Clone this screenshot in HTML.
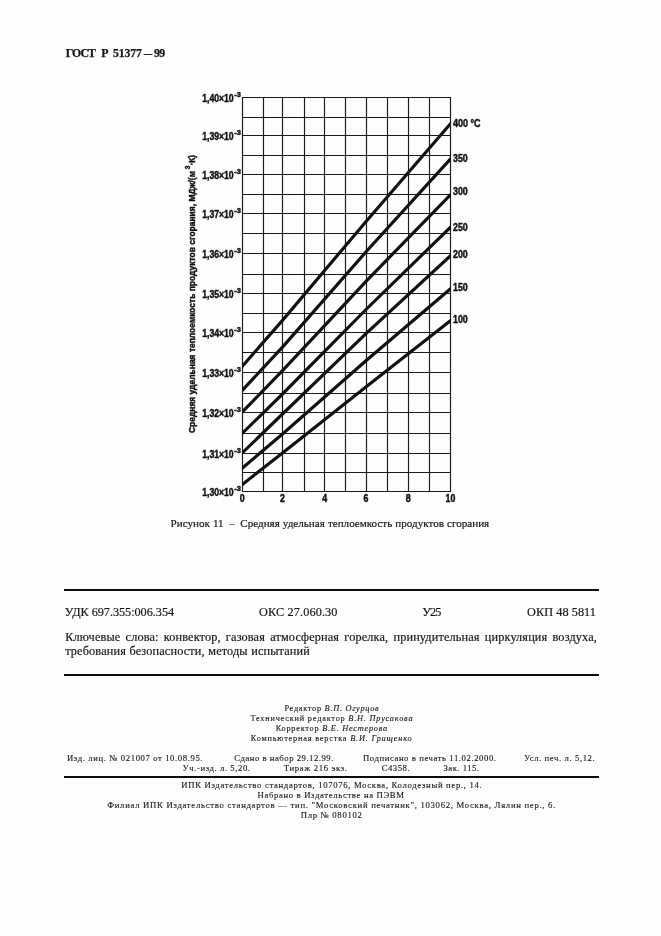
<!DOCTYPE html>
<html lang="ru"><head><meta charset="utf-8"><title>ГОСТ Р 51377—99</title>
<style>
html,body{margin:0;padding:0;background:#fdfdfd;}
body{width:661px;height:936px;position:relative;overflow:hidden;font-family:"Liberation Serif", serif;color:#161616;will-change:transform;}
.t{position:absolute;white-space:nowrap;line-height:1;margin:0;}
.chart{position:absolute;left:0;top:0;}
.r{position:absolute;background:#0c0c0c;}

</style></head><body>
<svg class="chart" width="661" height="560" viewBox="0 0 661 560">
<defs><clipPath id="cp"><rect x="241.9" y="96.9" width="209.2" height="395.2"/></clipPath></defs>
<g stroke="#1a1a1a" stroke-width="1.15" fill="none">
<line x1="242.5" y1="97.0" x2="242.5" y2="492.0"/>
<line x1="263.5" y1="97.0" x2="263.5" y2="492.0"/>
<line x1="282.5" y1="97.0" x2="282.5" y2="492.0"/>
<line x1="304.5" y1="97.0" x2="304.5" y2="492.0"/>
<line x1="324.5" y1="97.0" x2="324.5" y2="492.0"/>
<line x1="345.5" y1="97.0" x2="345.5" y2="492.0"/>
<line x1="366.5" y1="97.0" x2="366.5" y2="492.0"/>
<line x1="387.5" y1="97.0" x2="387.5" y2="492.0"/>
<line x1="408.5" y1="97.0" x2="408.5" y2="492.0"/>
<line x1="429.5" y1="97.0" x2="429.5" y2="492.0"/>
<line x1="450.5" y1="97.0" x2="450.5" y2="492.0"/>
<line x1="242.0" y1="97.5" x2="451.0" y2="97.5"/>
<line x1="242.0" y1="117.5" x2="451.0" y2="117.5"/>
<line x1="242.0" y1="135.5" x2="451.0" y2="135.5"/>
<line x1="242.0" y1="155.5" x2="451.0" y2="155.5"/>
<line x1="242.0" y1="174.5" x2="451.0" y2="174.5"/>
<line x1="242.0" y1="194.5" x2="451.0" y2="194.5"/>
<line x1="242.0" y1="213.5" x2="451.0" y2="213.5"/>
<line x1="242.0" y1="233.5" x2="451.0" y2="233.5"/>
<line x1="242.0" y1="253.5" x2="451.0" y2="253.5"/>
<line x1="242.0" y1="274.5" x2="451.0" y2="274.5"/>
<line x1="242.0" y1="293.5" x2="451.0" y2="293.5"/>
<line x1="242.0" y1="313.5" x2="451.0" y2="313.5"/>
<line x1="242.0" y1="332.5" x2="451.0" y2="332.5"/>
<line x1="242.0" y1="352.5" x2="451.0" y2="352.5"/>
<line x1="242.0" y1="372.5" x2="451.0" y2="372.5"/>
<line x1="242.0" y1="393.5" x2="451.0" y2="393.5"/>
<line x1="242.0" y1="412.5" x2="451.0" y2="412.5"/>
<line x1="242.0" y1="433.5" x2="451.0" y2="433.5"/>
<line x1="242.0" y1="453.5" x2="451.0" y2="453.5"/>
<line x1="242.0" y1="472.5" x2="451.0" y2="472.5"/>
<line x1="242.0" y1="491.5" x2="451.0" y2="491.5"/>
</g>
<g stroke="#111" stroke-width="3.15" fill="none" stroke-linecap="square" stroke-linejoin="round" clip-path="url(#cp)">
<path d="M239.5 369.53 L282.5 320.4 L366.5 220.9 L453.5 120.23"/>
<path d="M239.5 393.33 L282.5 347.1 L366.5 251.3 L453.5 155.70"/>
<path d="M239.5 414.88 L282.5 370.7 L366.5 280.8 L453.5 191.62"/>
<path d="M239.5 436.03 L282.5 394.0 L366.5 309.0 L453.5 224.28"/>
<path d="M239.5 455.50 L282.5 414.0 L366.5 333.1 L453.5 252.94"/>
<path d="M239.5 470.44 L282.5 434.0 L366.5 360.3 L453.5 286.25"/>
<path d="M239.5 486.65 L282.5 453.0 L366.5 386.5 L453.5 318.25"/>
</g>
<g font-family='"Liberation Sans", sans-serif' font-weight="bold" font-size="10.0" fill="#111" stroke="#111" stroke-width="0.45">
<text x="453.0" y="126.9" textLength="27.6" lengthAdjust="spacingAndGlyphs">400 °C</text>
<text x="453.0" y="162.2" textLength="14.7" lengthAdjust="spacingAndGlyphs">350</text>
<text x="453.0" y="195.3" textLength="14.7" lengthAdjust="spacingAndGlyphs">300</text>
<text x="453.0" y="231.1" textLength="14.7" lengthAdjust="spacingAndGlyphs">250</text>
<text x="453.0" y="258.2" textLength="14.7" lengthAdjust="spacingAndGlyphs">200</text>
<text x="453.0" y="291.1" textLength="14.7" lengthAdjust="spacingAndGlyphs">150</text>
<text x="453.0" y="323.1" textLength="14.7" lengthAdjust="spacingAndGlyphs">100</text>
<text x="202.2" y="102.3" textLength="31.5" lengthAdjust="spacingAndGlyphs">1,40×10</text>
<text x="234.2" y="97.1" font-size="7.6" textLength="6.7" lengthAdjust="spacingAndGlyphs">-3</text>
<text x="202.2" y="140.3" textLength="31.5" lengthAdjust="spacingAndGlyphs">1,39×10</text>
<text x="234.2" y="135.1" font-size="7.6" textLength="6.7" lengthAdjust="spacingAndGlyphs">-3</text>
<text x="202.2" y="179.3" textLength="31.5" lengthAdjust="spacingAndGlyphs">1,38×10</text>
<text x="234.2" y="174.1" font-size="7.6" textLength="6.7" lengthAdjust="spacingAndGlyphs">-3</text>
<text x="202.2" y="218.3" textLength="31.5" lengthAdjust="spacingAndGlyphs">1,37×10</text>
<text x="234.2" y="213.1" font-size="7.6" textLength="6.7" lengthAdjust="spacingAndGlyphs">-3</text>
<text x="202.2" y="258.3" textLength="31.5" lengthAdjust="spacingAndGlyphs">1,36×10</text>
<text x="234.2" y="253.1" font-size="7.6" textLength="6.7" lengthAdjust="spacingAndGlyphs">-3</text>
<text x="202.2" y="298.3" textLength="31.5" lengthAdjust="spacingAndGlyphs">1,35×10</text>
<text x="234.2" y="293.1" font-size="7.6" textLength="6.7" lengthAdjust="spacingAndGlyphs">-3</text>
<text x="202.2" y="337.3" textLength="31.5" lengthAdjust="spacingAndGlyphs">1,34×10</text>
<text x="234.2" y="332.1" font-size="7.6" textLength="6.7" lengthAdjust="spacingAndGlyphs">-3</text>
<text x="202.2" y="377.3" textLength="31.5" lengthAdjust="spacingAndGlyphs">1,33×10</text>
<text x="234.2" y="372.1" font-size="7.6" textLength="6.7" lengthAdjust="spacingAndGlyphs">-3</text>
<text x="202.2" y="417.3" textLength="31.5" lengthAdjust="spacingAndGlyphs">1,32×10</text>
<text x="234.2" y="412.1" font-size="7.6" textLength="6.7" lengthAdjust="spacingAndGlyphs">-3</text>
<text x="202.2" y="458.3" textLength="31.5" lengthAdjust="spacingAndGlyphs">1,31×10</text>
<text x="234.2" y="453.1" font-size="7.6" textLength="6.7" lengthAdjust="spacingAndGlyphs">-3</text>
<text x="202.2" y="496.3" textLength="31.5" lengthAdjust="spacingAndGlyphs">1,30×10</text>
<text x="234.2" y="491.1" font-size="7.6" textLength="6.7" lengthAdjust="spacingAndGlyphs">-3</text>
<text x="239.7" y="502.3" textLength="4.9" lengthAdjust="spacingAndGlyphs">0</text>
<text x="279.9" y="502.3" textLength="4.9" lengthAdjust="spacingAndGlyphs">2</text>
<text x="322.2" y="502.3" textLength="4.9" lengthAdjust="spacingAndGlyphs">4</text>
<text x="363.4" y="502.3" textLength="4.9" lengthAdjust="spacingAndGlyphs">6</text>
<text x="405.7" y="502.3" textLength="4.9" lengthAdjust="spacingAndGlyphs">8</text>
<text x="445.6" y="502.3" textLength="9.8" lengthAdjust="spacingAndGlyphs">10</text>
<text transform="translate(195.3 433.1) rotate(-90)" font-size="9.8" textLength="278.3" lengthAdjust="spacingAndGlyphs">Средняя удельная теплоемкость продуктов сгорания, МДж/(м<tspan dy="-5" font-size="7.6"> 3</tspan><tspan dy="5">·К)</tspan></text>
</g></svg>
<div class="t" id="t0" style="left:65.8px;top:48px;font-size:11.8px;font-weight:bold;-webkit-text-stroke:0.25px #161616;letter-spacing:-0.974px;">ГОСТ</div>
<div class="t" id="t1" style="left:101.3px;top:48px;font-size:11.8px;font-weight:bold;-webkit-text-stroke:0.25px #161616;letter-spacing:0.000px;">Р</div>
<div class="t" id="t2" style="left:112.9px;top:48px;font-size:11.8px;font-weight:bold;-webkit-text-stroke:0.25px #161616;letter-spacing:-0.100px;">51377</div>
<div class="t" id="t3" style="left:144.0px;top:48px;font-size:11.8px;font-weight:bold;-webkit-text-stroke:0.25px #161616;letter-spacing:0.000px;"><span style="display:inline-block;transform:scaleX(1.36);transform-origin:0 50%">–</span></div>
<div class="t" id="t4" style="left:154.0px;top:48px;font-size:11.8px;font-weight:bold;-webkit-text-stroke:0.25px #161616;letter-spacing:-0.597px;">99</div>
<div class="t" id="t5" style="left:170.6px;top:518px;font-size:11.1px;-webkit-text-stroke:0.18px #161616;word-spacing:0.286px;letter-spacing:0px;">Рисунок 11&ensp;–&ensp;Средняя удельная теплоемкость продуктов сгорания</div>
<div class="t" id="t6" style="left:64.8px;top:606px;font-size:12.25px;-webkit-text-stroke:0.18px #161616;letter-spacing:-0.042px;">УДК 697.355:006.354</div>
<div class="t" id="t7" style="left:259.0px;top:606px;font-size:12.25px;-webkit-text-stroke:0.18px #161616;letter-spacing:0.129px;">ОКС 27.060.30</div>
<div class="t" id="t8" style="left:422.3px;top:606px;font-size:12.25px;-webkit-text-stroke:0.18px #161616;letter-spacing:-0.919px;">У25</div>
<div class="t" id="t9" style="left:527.0px;top:606px;font-size:12.25px;-webkit-text-stroke:0.18px #161616;letter-spacing:0.070px;">ОКП 48 5811</div>
<div class="t" id="t10" style="left:65.2px;top:631px;font-size:12.25px;-webkit-text-stroke:0.18px #161616;word-spacing:1.946px;letter-spacing:0.15px;">Ключевые слова: конвектор, газовая атмосферная горелка, принудительная циркуляция воздуха,</div>
<div class="t" id="t11" style="left:65.2px;top:645px;font-size:12.25px;-webkit-text-stroke:0.18px #161616;word-spacing:0.282px;letter-spacing:0.15px;">требования безопасности, методы испытаний</div>
<div class="t" id="t12" style="left:284.4px;top:705px;font-size:8.3px;-webkit-text-stroke:0.12px #161616;letter-spacing:0.713px;">Редактор <i>В.П. Огурцов</i></div>
<div class="t" id="t13" style="left:250.4px;top:715px;font-size:8.3px;-webkit-text-stroke:0.12px #161616;letter-spacing:0.783px;">Технический редактор <i>В.Н. Прусакова</i></div>
<div class="t" id="t14" style="left:275.7px;top:725px;font-size:8.3px;-webkit-text-stroke:0.12px #161616;letter-spacing:0.746px;">Корректор <i>В.Е. Нестерова</i></div>
<div class="t" id="t15" style="left:250.8px;top:735px;font-size:8.3px;-webkit-text-stroke:0.12px #161616;letter-spacing:0.788px;">Компьютерная верстка <i>В.И. Грищенко</i></div>
<div class="t" id="t16" style="left:67.0px;top:754px;font-size:8.7px;-webkit-text-stroke:0.12px #161616;letter-spacing:0.591px;">Изд. лиц. № 021007 от 10.08.95.</div>
<div class="t" id="t17" style="left:234.2px;top:754px;font-size:8.7px;-webkit-text-stroke:0.12px #161616;letter-spacing:0.515px;">Сдано в набор 29.12.99.</div>
<div class="t" id="t18" style="left:363.0px;top:754px;font-size:8.7px;-webkit-text-stroke:0.12px #161616;letter-spacing:0.568px;">Подписано в печать 11.02.2000.</div>
<div class="t" id="t19" style="left:524.0px;top:754px;font-size:8.7px;-webkit-text-stroke:0.12px #161616;letter-spacing:0.588px;">Усл. печ. л. 5,12.</div>
<div class="t" id="t20" style="left:182.6px;top:764px;font-size:8.7px;-webkit-text-stroke:0.12px #161616;letter-spacing:0.567px;">Уч.-изд. л. 5,20.</div>
<div class="t" id="t21" style="left:283.8px;top:764px;font-size:8.7px;-webkit-text-stroke:0.12px #161616;letter-spacing:0.649px;">Тираж 216 экз.</div>
<div class="t" id="t22" style="left:381.7px;top:764px;font-size:8.7px;-webkit-text-stroke:0.12px #161616;letter-spacing:0.511px;">С4358.</div>
<div class="t" id="t23" style="left:443.5px;top:764px;font-size:8.7px;-webkit-text-stroke:0.12px #161616;letter-spacing:0.480px;">Зак. 115.</div>
<div class="t" id="t24" style="left:181.3px;top:781px;font-size:8.7px;-webkit-text-stroke:0.12px #161616;letter-spacing:0.667px;">ИПК Издательство стандартов, 107076, Москва, Колодезный пер., 14.</div>
<div class="t" id="t25" style="left:257.5px;top:791px;font-size:8.7px;-webkit-text-stroke:0.12px #161616;letter-spacing:0.649px;">Набрано в Издательстве на ПЭВМ</div>
<div class="t" id="t26" style="left:107.2px;top:801px;font-size:8.7px;-webkit-text-stroke:0.12px #161616;letter-spacing:0.708px;">Филиал ИПК Издательство стандартов — тип. "Московский печатник", 103062, Москва, Лялин пер., 6.</div>
<div class="t" id="t27" style="left:300.7px;top:811px;font-size:8.7px;-webkit-text-stroke:0.12px #161616;letter-spacing:0.677px;">Плр № 080102</div>
<div class="r" style="left:64px;top:589px;width:535px;height:2px"></div>
<div class="r" style="left:64px;top:674px;width:535px;height:2px"></div>
<div class="r" style="left:64px;top:776px;width:535px;height:2px"></div>
</body></html>
